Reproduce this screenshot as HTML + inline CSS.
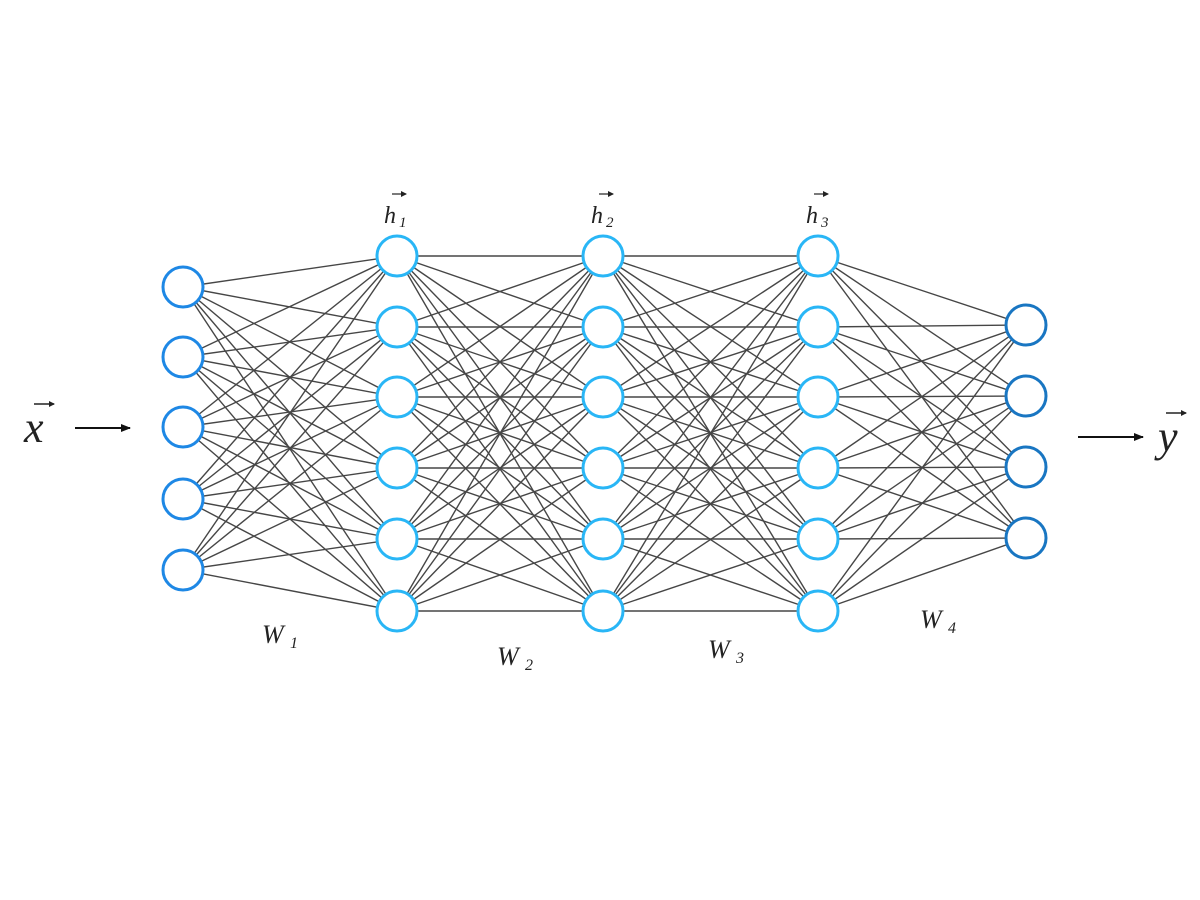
<!DOCTYPE html>
<html><head><meta charset="utf-8"><style>
html,body{margin:0;padding:0;background:#fff;width:1200px;height:900px;overflow:hidden}
svg{display:block}
text{font-family:"Liberation Serif",serif;font-style:italic;fill:#222}
</style></head><body>
<svg id="s" width="1200" height="900" viewBox="0 0 1200 900" xmlns="http://www.w3.org/2000/svg">
<defs><marker id="a" markerWidth="10" markerHeight="8" refX="9" refY="4" orient="auto" markerUnits="userSpaceOnUse"><path d="M0,0 L10,4 L0,8 z" fill="#111"/></marker>
<marker id="b" markerWidth="6" markerHeight="6" refX="5" refY="3" orient="auto" markerUnits="userSpaceOnUse"><path d="M0,0 L6,3 L0,6 z" fill="#222"/></marker></defs>
<g id="lines" stroke="#333" stroke-width="1.4" opacity="0.9"></g>
<g id="nodes" fill="#fff" stroke-width="3"></g>
<line x1="75" y1="428" x2="130" y2="428" stroke="#111" stroke-width="2" marker-end="url(#a)"/>
<line x1="1078" y1="437" x2="1143" y2="437" stroke="#111" stroke-width="2" marker-end="url(#a)"/>
<text x="24" y="442" font-size="44">x</text>
<line x1="34" y1="404" x2="54" y2="404" stroke="#222" stroke-width="1.5" marker-end="url(#b)"/>
<text x="1158" y="451" font-size="44">y</text>
<line x1="1166" y1="413" x2="1186" y2="413" stroke="#222" stroke-width="1.5" marker-end="url(#b)"/>
<text x="384" y="223" font-size="24">h</text><text x="399" y="227" font-size="15" font-style="normal">1</text>
<line x1="392" y1="194" x2="406" y2="194" stroke="#222" stroke-width="1.2" marker-end="url(#b)"/>
<text x="591" y="223" font-size="24">h</text><text x="606" y="227" font-size="15" font-style="normal">2</text>
<line x1="599" y1="194" x2="613" y2="194" stroke="#222" stroke-width="1.2" marker-end="url(#b)"/>
<text x="806" y="223" font-size="24">h</text><text x="821" y="227" font-size="15" font-style="normal">3</text>
<line x1="814" y1="194" x2="828" y2="194" stroke="#222" stroke-width="1.2" marker-end="url(#b)"/>
<text x="262" y="643" font-size="26">W</text><text x="290" y="648" font-size="16" font-style="normal">1</text>
<text x="497" y="665" font-size="26">W</text><text x="525" y="670" font-size="16" font-style="normal">2</text>
<text x="708" y="658" font-size="26">W</text><text x="736" y="663" font-size="16" font-style="normal">3</text>
<text x="920" y="628" font-size="26">W</text><text x="948" y="633" font-size="16" font-style="normal">4</text>
</svg>
<script>
var L=[[183,[287,357,427,499,570],"#1e88e5"],
[397,[256,327,397,468,539,611],"#29b6f6"],
[603,[256,327,397,468,539,611],"#29b6f6"],
[818,[256,327,397,468,539,611],"#29b6f6"],
[1026,[325,396,467,538],"#1976c2"]];
var ns="http://www.w3.org/2000/svg",lg=document.getElementById("lines"),ng=document.getElementById("nodes");
for(var i=0;i<L.length-1;i++){for(var a of L[i][1])for(var b of L[i+1][1]){var l=document.createElementNS(ns,"line");l.setAttribute("x1",L[i][0]);l.setAttribute("y1",a);l.setAttribute("x2",L[i+1][0]);l.setAttribute("y2",b);lg.appendChild(l);}}
for(var k of L)for(var y of k[1]){var c=document.createElementNS(ns,"circle");c.setAttribute("cx",k[0]);c.setAttribute("cy",y);c.setAttribute("r",20);c.setAttribute("stroke",k[2]);ng.appendChild(c);}
</script>
</body></html>
